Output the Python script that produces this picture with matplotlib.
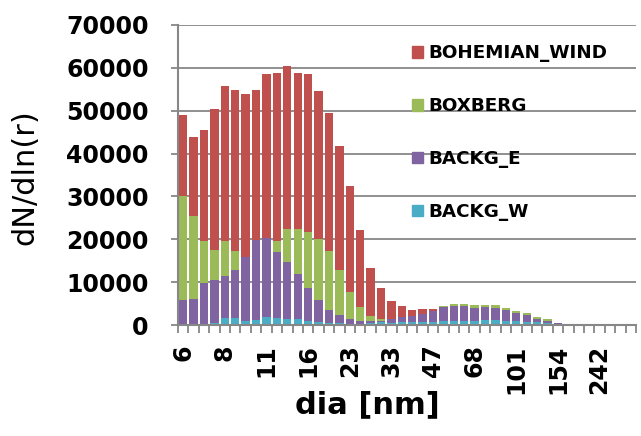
import numpy as np
import matplotlib.pyplot as plt
from matplotlib.patches import Patch

# particle diameter classes [nm], only every 4th one is labelled on the axis
dia = [6, 6.5, 7, 7.5, 8, 8.7, 9.4, 10.2, 11, 12.1, 13.3, 14.6, 16, 17.6, 19.3, 21.1,
       23, 25.3, 27.7, 30.3, 33, 36.3, 39.8, 43.3, 47, 51.8, 56.8, 62.2, 68, 75.6, 83.8, 92.2,
       101, 112.4, 124.8, 138.8, 154, 172, 192, 214, 242, 268, 298, 330]

bohemian_wind = [49100, 43800, 45500, 50500, 55700, 54900, 53900, 54900, 58600, 58800, 60400,
                 58800, 58500, 54500, 49500, 41700, 32400, 22100, 13300, 8700, 5700, 4400,
                 3600, 3700, 3700, 3000, 2800, 2600, 2400, 2200, 2000, 1700, 1400, 1100, 800,
                 500, 300, 150, 100, 0, 0, 0, 0, 0]
boxberg = [30200, 25400, 19700, 17600, 19700, 17200, 14500, 17000, 18500, 19700, 22300, 22400,
           21700, 20100, 17200, 12900, 7700, 4100, 2100, 1300, 1200, 1400, 1800, 2200, 3000,
           4500, 4900, 4900, 4700, 4700, 4600, 3900, 3200, 2700, 1800, 1300, 500, 300, 100,
           0, 0, 0, 0, 0]
backg_e = [5800, 6100, 9700, 10400, 11400, 12900, 15800, 19900, 20300, 17000, 14700, 12000,
           8700, 5800, 3600, 2400, 1300, 1000, 1000, 1000, 1500, 1800, 2200, 2500, 3300, 4100,
           4400, 4400, 3900, 4100, 3900, 3600, 2900, 2400, 1500, 900, 400, 150, 50, 0, 0, 0, 0, 0]
backg_w = [0, 0, 0, 400, 1650, 1650, 1000, 1200, 1800, 1650, 1500, 1300, 900, 650, 500, 400,
           300, 300, 500, 600, 500, 600, 700, 700, 800, 900, 900, 900, 1000, 1100, 1100, 1000,
           900, 800, 600, 400, 300, 200, 100, 0, 0, 0, 0, 0]

names = ['BOHEMIAN_WIND', 'BOXBERG', 'BACKG_E', 'BACKG_W']
colors = ['#C0504D', '#9BBB59', '#8064A2', '#4BACC6']
grey = '#878787'

fig = plt.figure(figsize=(6.41, 4.36), dpi=100)
ax = fig.add_axes([178 / 641, 1 - 325 / 436, 458 / 641, 300 / 436])

x = np.arange(len(dia))
# bars overlap fully (Excel style), later series in front
for vals, name, col in zip([bohemian_wind, boxberg, backg_e, backg_w], names, colors):
    ax.bar(x, vals, width=0.8, color=col, label=name, linewidth=0)

ax.set_xlim(-0.5, len(dia) - 0.5)
ax.set_ylim(0, 70000)
ax.set_yticks(np.arange(0, 70001, 10000))
ax.set_axisbelow(True)
ax.grid(axis='y', color=grey, linewidth=1.3)

tick_font = dict(family='DejaVu Sans', weight='bold', size=17)
ax.set_yticklabels([str(v) for v in range(0, 70001, 10000)], **tick_font)
ax.set_xticks(x[::4])
ax.set_xticklabels([f'{d:g}' for d in dia[::4]], rotation=90, **tick_font)
ax.set_xticks(np.arange(-0.5, len(dia), 1), minor=True)
ax.tick_params(axis='x', which='major', length=0, pad=14)
ax.tick_params(axis='x', which='minor', length=6, color=grey, width=1.3)
ax.tick_params(axis='y', length=5, color=grey, width=1.3, pad=16)

for s in ['top', 'right']:
    ax.spines[s].set_visible(False)
for s in ['left', 'bottom']:
    ax.spines[s].set_color(grey)
    ax.spines[s].set_linewidth(1.5)

fig.text(25 / 641, 1 - 177 / 436, 'dN/dln(r)', rotation=90, ha='center', va='center',
         family='DejaVu Sans', size=22)
fig.text(367 / 641, 1 - 405 / 436, 'dia [nm]', ha='center', va='center',
         family='DejaVu Sans', weight='bold', size=22)

handles = [Patch(color=c) for c in colors]
ax.legend(handles, names, loc='upper left', bbox_to_anchor=(405 / 641, 1 - 37 / 436),
          bbox_transform=fig.transFigure, frameon=False,
          prop=dict(family='DejaVu Sans', weight='bold', size=13.2),
          handlelength=0.6, handleheight=0.6, handletextpad=0.3, labelspacing=1.9,
          borderaxespad=0)

fig.savefig('out.png', dpi=100)
